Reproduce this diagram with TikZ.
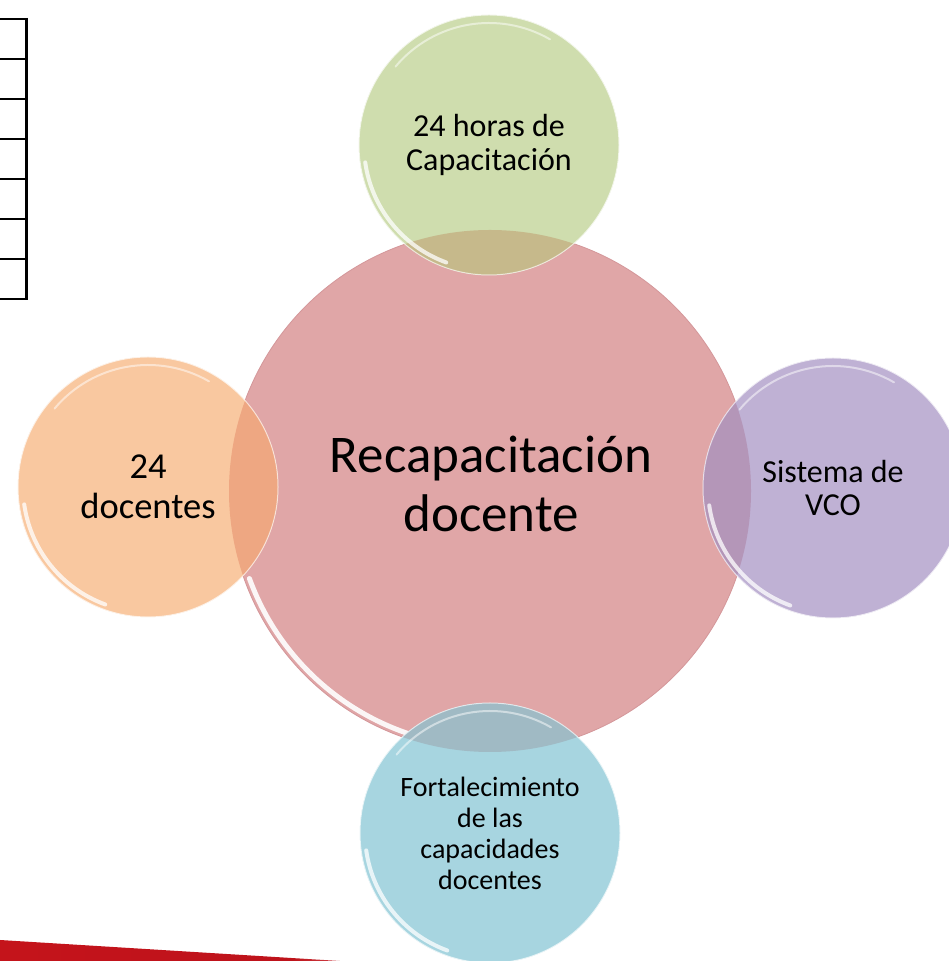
\documentclass[tikz,border=0pt]{standalone}
\usepackage{fontspec}
\setmainfont{Carlito}
\usetikzlibrary{calc}
\definecolor{mainfill}{HTML}{E0A6A7}
\definecolor{mainrim}{HTML}{D4979A}
\definecolor{greenfill}{HTML}{CFDDAE}
\definecolor{orangefill}{HTML}{F9C8A0}
\definecolor{purplefill}{HTML}{BFB1D4}
\definecolor{bluefill}{HTML}{A7D5E0}
\definecolor{greenover}{HTML}{C6B98B}
\definecolor{orangeover}{HTML}{EEA782}
\definecolor{purpleover}{HTML}{B496B8}
\definecolor{blueover}{HTML}{A0BAC4}
\definecolor{barred}{HTML}{C8141C}
\pgfdeclarehorizontalshading{barshade}{100bp}{color(0bp)=(barred); color(68bp)=(barred!95!black); color(82bp)=(barred!60!white); color(100bp)=(white)}
\tikzset{
  bigc/.style={circle, inner sep=0pt, minimum size=522pt, fill=mainfill, draw=mainrim, line width=0.8pt},
  bigtext/.style={align=center, text=black, inner sep=0pt, font=\fontsize{53}{59}\selectfont},
  smallc/.style={circle, inner sep=0pt, minimum size=260pt, align=center, text=black},
  glossa/.style={white, opacity=0.75, line width=4pt, line cap=round},
  glossb/.style={white, opacity=0.5, line width=2pt, line cap=round},
  tabline/.style={black, line width=2pt},
  tabvert/.style={black, line width=3pt}
}
\begin{document}
\begin{tikzpicture}[x=1pt,y=1pt]
\useasboundingbox (0,0) rectangle (949,961);
\clip (0,0) rectangle (949,961);
\fill[white] (0,0) rectangle (949,961);

% table fragment at top left
\foreach \yy in {942,902,862,822,782,742,702,662} {
  \draw[tabline] (0,\yy) -- (26,\yy);
}
\coordinate (tabtop) at (26,943);
\coordinate (tabbot) at (26,661);
\draw[tabvert] (tabtop) -- (tabbot);

% red bar bottom left
\coordinate (barA) at (0,21);
\coordinate (barB) at (340,0);
\coordinate (barC) at (0,0);
\shade[shading=barshade] (barA) -- (barB) -- (barC) -- cycle;

% main circle
\node[bigc] (main) at (490,470) {};
\node[bigtext] (maintext) at (491,477) {Recapacitación\\docente};
\draw[white, line width=5pt, opacity=0.9, line cap=round] ([shift={(200:256)}]main.center) arc[start angle=200, end angle=272, radius=256];

% small circles
\node[smallc, fill=greenfill, draw=greenfill!70!white, font=\fontsize{32}{34}\selectfont] (top) at (489,816) {24 horas de\\Capacitación};
\node[smallc, fill=orangefill, draw=orangefill!70!white, font=\fontsize{36.5}{40}\selectfont] (left) at (148,474) {24\\docentes};
\node[smallc, fill=purplefill, draw=purplefill!70!white, font=\fontsize{32}{33}\selectfont] (right) at (833,473) {Sistema de\\VCO};
\node[smallc, fill=bluefill, draw=bluefill!70!white, font=\fontsize{28}{31}\selectfont] (bottom) at (490,128) {Fortalecimiento\\de las\\capacidades\\docentes};

% overlaps
\begin{scope}
  \clip (main.center) circle[radius=261];
  \fill[greenover] (top.center) circle[radius=130];
  \fill[orangeover] (left.center) circle[radius=130];
  \fill[purpleover] (right.center) circle[radius=130];
  \fill[blueover] (bottom.center) circle[radius=130];
\end{scope}

% gloss highlights
\foreach \c in {top,left,right,bottom} {
  \draw[glossa] ([shift={(188:125)}]\c.center) arc[start angle=188, end angle=250, radius=125];
  \draw[glossb] ([shift={(60:122)}]\c.center) arc[start angle=60, end angle=140, radius=122];
  \draw[white, opacity=0.6, line width=1pt] (\c.center) circle[radius=130];
}
\end{tikzpicture}
\end{document}
